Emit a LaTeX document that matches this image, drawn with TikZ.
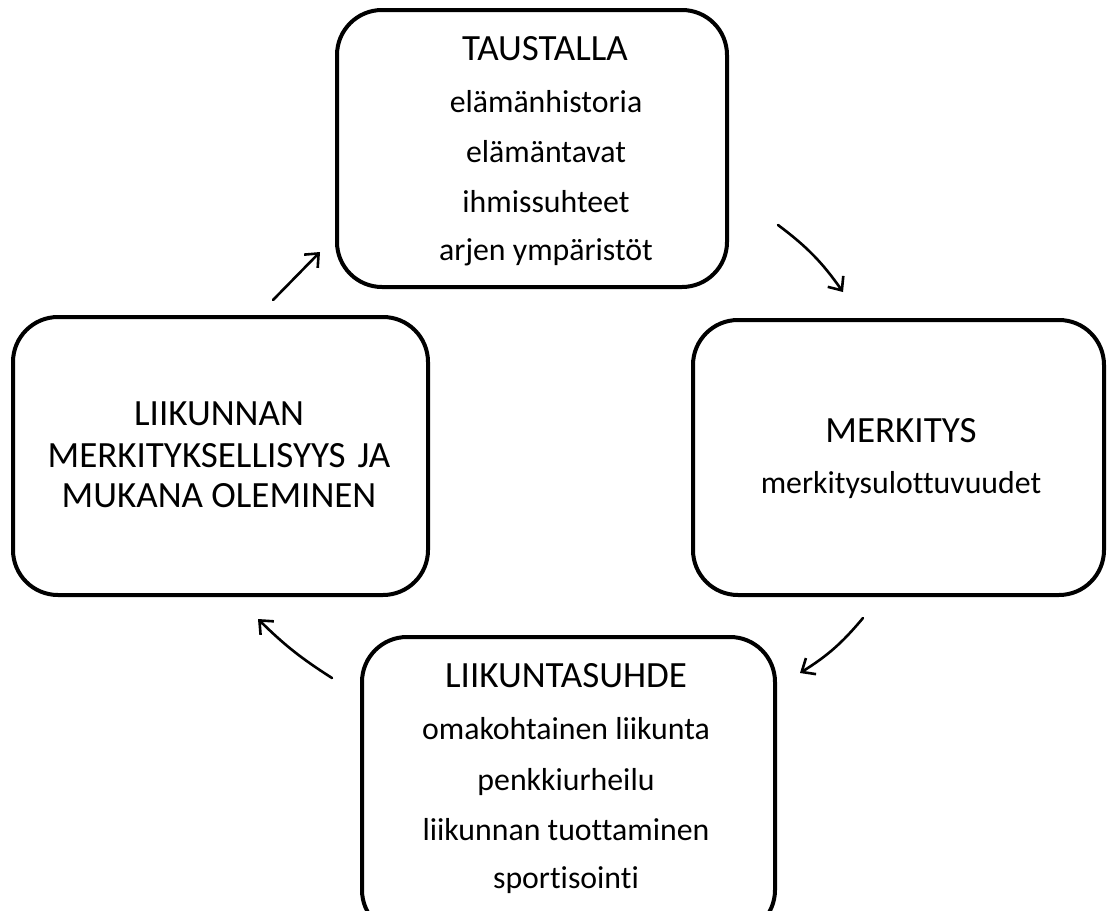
\documentclass[tikz,border=0pt]{standalone}
\usepackage{fontspec}
\setmainfont{Carlito}[Ligatures={NoCommon}]
\usetikzlibrary{arrows.meta}
\tikzset{
  box/.style={draw=black, line width=4pt, rounded corners=45pt, fill=white, inner sep=0pt},
  title/.style={anchor=base, font=\fontsize{37}{44}\selectfont, inner sep=0pt},
  item/.style={anchor=base, font=\fontsize{31.8}{38}\selectfont, inner sep=0pt},
  flow/.style={line width=2.6pt, line cap=round, -{Straight Barb[length=11pt,width=19pt,line width=2.6pt]}}
}
\begin{document}
\begin{tikzpicture}[x=1pt,y=-1pt]
\path[use as bounding box, clip] (0,0) rectangle (1108,910);
\fill[white] (0,0) rectangle (1108,910);
% boxes
\node[box, minimum width=390pt, minimum height=277pt] (top) at (532,148.5) {};
\node[box, minimum width=411pt, minimum height=275pt] (right) at (898.5,457.5) {};
\node[box, minimum width=413pt, minimum height=298pt] (bottom) at (568.5,786) {};
\node[box, minimum width=415pt, minimum height=278pt] (left) at (220.5,456) {};
% top texts
\node[title] (t0) at (545,60) {TAUSTALLA};
\node[item] (t1) at (546,112) {elämänhistoria};
\node[item] (t2) at (546,162) {elämäntavat};
\node[item] (t3) at (546,212) {ihmissuhteet};
\node[item] (t4) at (546,260) {arjen ympäristöt};
% right texts
\node[title] (r0) at (901,442) {MERKITYS};
\node[item] (r1) at (901,493) {merkitysulottuvuudet};
% bottom texts
\node[title] (b0) at (566,687) {LIIKUNTASUHDE};
\node[item] (b1) at (566,739) {omakohtainen liikunta};
\node[item] (b2) at (566,790) {penkkiurheilu};
\node[item] (b3) at (566,840) {liikunnan tuottaminen};
\node[item] (b4) at (566,888) {sportisointi};
% left texts
\node[title] (l0) at (219,425) {LIIKUNNAN};
\node[title] (l1) at (219,467) {MERKITYKSELLISYYS\hspace{12pt}JA};
\node[title] (l2) at (219,507) {MUKANA OLEMINEN};
% arrow end points
\coordinate (a1s) at (778,225);
\coordinate (a1e) at (843,292);
\coordinate (a2s) at (863,618);
\coordinate (a2e) at (800,673);
\coordinate (a3s) at (332,678);
\coordinate (a3e) at (258,619);
\coordinate (a4s) at (273,300);
\coordinate (a4e) at (320,252);
\draw[flow] (a1s) to[bend left=9] (a1e);
\draw[flow] (a2s) to[bend left=9] (a2e);
\draw[flow] (a3s) to[bend left=6] (a3e);
\draw[flow] (a4s) -- (a4e);
\end{tikzpicture}
\end{document}
